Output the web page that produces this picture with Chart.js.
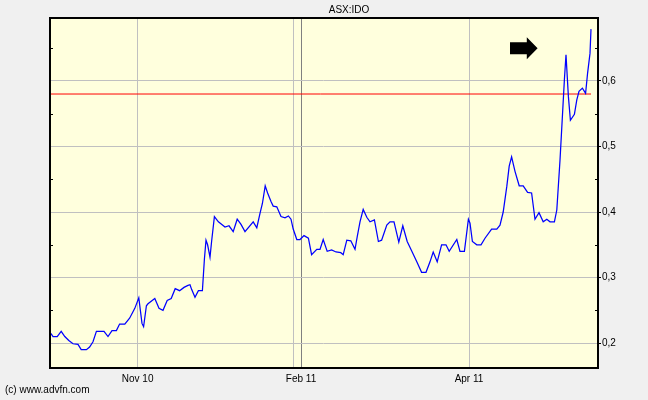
<!DOCTYPE html>
<html>
<head>
<meta charset="utf-8">
<script src="https://cdn.jsdelivr.net/npm/chart.js@4.4.0/dist/chart.umd.min.js"></script>
<style>
  html, body { margin: 0; padding: 0; background: #f0f0f0; }
  canvas { display: block; }
</style>
</head>
<body>
<canvas id="c" width="648" height="400"></canvas>
<script>
// ---- data (trading-day index vs. price) ----
const days = [0, 0.3, 0.75, 1.8, 2.8, 3.7, 4.7, 5.75, 7, 7.8, 9.1, 9.9, 10.75, 11.6, 13.5, 14.5, 15.5, 16.6, 17.4, 18.7,
  19.9, 21.2, 22.2, 23, 23.4, 24.1, 24.5, 26.2, 27.25, 28.25, 29.3, 30.3, 31.3, 32.4, 33.5, 34.5, 35, 35.4, 36.25, 37.1,
  38.1, 38.6, 39, 39.4, 40, 40.4, 41.1, 42.1, 43.75, 44.75, 45.8, 46.8, 47.75, 48.75, 50.8, 51.7, 52.5, 53.1, 53.8, 54.4,
  55.25, 55.8, 56.7, 57.75, 58.75, 59.6, 60.25, 60.8, 61.7, 62.5, 63.5, 64.6, 65.4, 66.7, 67.5, 68.3, 69.3, 70.4, 71.5, 72.7,
  73.3, 74.2, 75.2, 76.25, 76.8, 77.5, 78.3, 79.2, 80, 81.1, 82.1, 82.9, 84.2, 85, 86, 87.2, 88.2, 89.3, 90.4, 91.7,
  92.9, 94, 95, 95.8, 96.8, 97.9, 99, 99.8, 101.7, 102.5, 103.6, 104.6, 105, 105.6, 106.7, 107.75, 108.75, 110.4, 111.7, 112.5,
  113.3, 114.2, 114.8, 115.4, 116.25, 117.3, 118.3, 119.4, 120.4, 121.25, 122.25, 123.3, 124.2, 125, 126.1, 126.7, 127.5, 128.1, 128.6, 129,
  129.6, 130.1, 131.1, 131.7, 132.25, 133.1, 133.9, 134.4, 135, 135.25];
const prices = [0.214, 0.214, 0.210, 0.210, 0.218, 0.210, 0.204, 0.199, 0.198, 0.190, 0.190, 0.194, 0.202, 0.218, 0.218, 0.210, 0.219, 0.219, 0.229, 0.229,
  0.238, 0.253, 0.269, 0.230, 0.225, 0.257, 0.260, 0.268, 0.253, 0.250, 0.265, 0.268, 0.283, 0.280, 0.285, 0.288, 0.289, 0.282, 0.270, 0.280,
  0.280, 0.328, 0.357, 0.350, 0.331, 0.355, 0.393, 0.385, 0.377, 0.379, 0.370, 0.389, 0.381, 0.370, 0.385, 0.376, 0.398, 0.413, 0.440, 0.429,
  0.416, 0.409, 0.408, 0.393, 0.391, 0.394, 0.389, 0.374, 0.358, 0.358, 0.364, 0.360, 0.335, 0.343, 0.343, 0.358, 0.340, 0.342, 0.339, 0.338,
  0.335, 0.357, 0.356, 0.343, 0.362, 0.385, 0.404, 0.392, 0.385, 0.388, 0.355, 0.357, 0.380, 0.385, 0.385, 0.354, 0.379, 0.355, 0.341, 0.324,
  0.308, 0.308, 0.324, 0.339, 0.324, 0.350, 0.350, 0.340, 0.358, 0.340, 0.340, 0.389, 0.383, 0.355, 0.350, 0.350, 0.360, 0.374, 0.374, 0.380,
  0.400, 0.439, 0.470, 0.484, 0.462, 0.440, 0.440, 0.430, 0.429, 0.389, 0.399, 0.385, 0.389, 0.385, 0.385, 0.403, 0.479, 0.546, 0.602, 0.640,
  0.576, 0.540, 0.549, 0.571, 0.584, 0.589, 0.581, 0.612, 0.642, 0.679];
const levelDays = [0, 135.25];
const levelValues = [0.58, 0.58];
const xTickPositions = [21.9, 60.9, 62.75, 104.75];
const xTickLabels = ['Nov 10', '', 'Feb 11', 'Apr 11'];
const yTickValues = [0.2, 0.3, 0.4, 0.5, 0.6];
const yTickLabels = ['0,2', '0,3', '0,4', '0,5', '0,6'];
const yMinorValues = [0.25, 0.35, 0.45, 0.55, 0.65];
const titleText = 'ASX:IDO';
const creditText = '(c) www.advfn.com';

const FONT = 'Liberation Sans';

const framePlugin = {
  id: 'frame',
  beforeDraw(chart) {
    const { ctx, chartArea: a } = chart;
    ctx.save();
    ctx.fillStyle = '#f0f0f0';
    ctx.fillRect(0, 0, chart.width, chart.height);
    ctx.fillStyle = '#ffffdd';
    ctx.fillRect(a.left, a.top, a.right - a.left, a.bottom - a.top);
    ctx.restore();
  },
  afterDatasetsDraw(chart) {
    const { ctx, chartArea: a, scales } = chart;
    ctx.save();
    // arrow marker
    const x = scales.x, y = scales.y;
    const bx0 = x.getPixelForValue(115), bx1 = x.getPixelForValue(119.2), hx = x.getPixelForValue(121.9);
    const my = y.getPixelForValue(0.650);
    ctx.fillStyle = '#000';
    ctx.beginPath();
    ctx.moveTo(bx0, my - 6);
    ctx.lineTo(bx1, my - 6);
    ctx.lineTo(bx1, my - 11);
    ctx.lineTo(hx, my);
    ctx.lineTo(bx1, my + 11);
    ctx.lineTo(bx1, my + 6);
    ctx.lineTo(bx0, my + 6);
    ctx.closePath();
    ctx.fill();
    // minor ticks inside frame
    ctx.strokeStyle = '#000';
    ctx.lineWidth = 1;
    yMinorValues.forEach(v => {
      const py = Math.round(y.getPixelForValue(v)) + 0.5;
      if (py < a.top || py > a.bottom) return;
      ctx.beginPath();
      ctx.moveTo(a.left, py); ctx.lineTo(a.left + 3, py);
      ctx.moveTo(a.right - 3, py); ctx.lineTo(a.right, py);
      ctx.stroke();
    });
    // frame
    ctx.lineWidth = 2;
    ctx.strokeRect(a.left, a.top, a.right - a.left, a.bottom - a.top);
    // credit
    ctx.fillStyle = '#000';
    ctx.font = '10px "' + FONT + '"';
    ctx.textBaseline = 'middle';
    ctx.textAlign = 'left';
    ctx.fillText(creditText, 5, 390);
    ctx.restore();
  }
};

new Chart(document.getElementById('c'), {
  type: 'line',
  data: {
    datasets: [
      {
        label: titleText,
        data: days.map((d, i) => ({ x: d, y: prices[i] })),
        borderColor: '#0000ff',
        borderWidth: 1.25,
        pointRadius: 0,
        tension: 0,
        fill: false
      },
      {
        label: 'level',
        data: levelDays.map((d, i) => ({ x: d, y: levelValues[i] })),
        borderColor: '#ff0000',
        borderWidth: 1,
        pointRadius: 0,
        fill: false
      }
    ]
  },
  options: {
    responsive: false,
    animation: false,
    devicePixelRatio: 1,
    layout: { padding: { left: 50, right: 0, top: 0, bottom: 0 } },
    plugins: {
      legend: { display: false },
      tooltip: { enabled: false },
      title: {
        display: true,
        text: titleText,
        color: '#000',
        font: { family: FONT, size: 10, weight: 'normal' },
        padding: { top: 4, bottom: 2 }
      }
    },
    scales: {
      x: {
        type: 'linear',
        min: 0,
        max: 137,
        afterBuildTicks: s => { s.ticks = xTickPositions.map(v => ({ value: v })); },
        afterFit: s => { s.height = 32; },
        ticks: {
          autoSkip: false,
          maxRotation: 0,
          color: '#000',
          padding: 5,
          font: { family: FONT, size: 10 },
          callback: (v, i) => xTickLabels[i]
        },
        grid: {
          drawTicks: false,
          color: c => (c.tick && c.tick.value === 62.75) ? '#808080' : '#c0c0c0',
          lineWidth: 1
        },
        border: { display: true, color: '#000', width: 2 }
      },
      y: {
        position: 'right',
        min: 0.162,
        max: 0.696,
        afterBuildTicks: s => { s.ticks = yTickValues.map(v => ({ value: v })); },
        afterFit: s => { s.width = 50; },
        ticks: {
          color: '#000',
          padding: 1,
          font: { family: FONT, size: 10 },
          callback: (v, i) => yTickLabels[i]
        },
        grid: {
          color: '#c0c0c0',
          tickColor: '#000',
          tickLength: 3,
          lineWidth: 1
        },
        border: { display: true, color: '#000', width: 2 }
      }
    }
  },
  plugins: [framePlugin]
});
</script>
</body>
</html>
